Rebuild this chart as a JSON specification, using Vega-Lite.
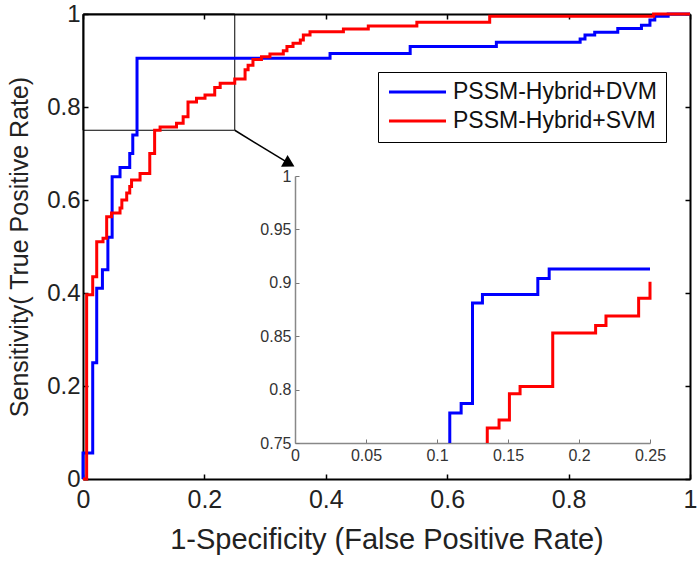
{
  "$schema": "https://vega.github.io/schema/vega-lite/v6.json",
  "width": 607,
  "height": 465,
  "autosize": {"type": "none"},
  "padding": {"left": 83, "top": 14, "right": 10, "bottom": 82},
  "config": {
    "font": "Liberation Sans",
    "view": {"stroke": null},
    "axis": {"grid": false, "labelFont": "Liberation Sans", "titleFont": "Liberation Sans", "titleFontWeight": "normal"}
  },
  "datasets": {
    "main": [
      {"model": "PSSM-Hybrid+DVM", "fpr": 0, "tpr": 0},
      {"model": "PSSM-Hybrid+DVM", "fpr": 0, "tpr": 0.056},
      {"model": "PSSM-Hybrid+DVM", "fpr": 0.016, "tpr": 0.25},
      {"model": "PSSM-Hybrid+DVM", "fpr": 0.0226, "tpr": 0.41},
      {"model": "PSSM-Hybrid+DVM", "fpr": 0.032, "tpr": 0.45},
      {"model": "PSSM-Hybrid+DVM", "fpr": 0.041, "tpr": 0.52},
      {"model": "PSSM-Hybrid+DVM", "fpr": 0.048, "tpr": 0.65},
      {"model": "PSSM-Hybrid+DVM", "fpr": 0.061, "tpr": 0.67},
      {"model": "PSSM-Hybrid+DVM", "fpr": 0.077, "tpr": 0.70},
      {"model": "PSSM-Hybrid+DVM", "fpr": 0.082, "tpr": 0.74},
      {"model": "PSSM-Hybrid+DVM", "fpr": 0.089, "tpr": 0.905},
      {"model": "PSSM-Hybrid+DVM", "fpr": 0.407, "tpr": 0.915},
      {"model": "PSSM-Hybrid+DVM", "fpr": 0.539, "tpr": 0.93},
      {"model": "PSSM-Hybrid+DVM", "fpr": 0.681, "tpr": 0.939},
      {"model": "PSSM-Hybrid+DVM", "fpr": 0.819, "tpr": 0.946},
      {"model": "PSSM-Hybrid+DVM", "fpr": 0.827, "tpr": 0.955},
      {"model": "PSSM-Hybrid+DVM", "fpr": 0.843, "tpr": 0.961},
      {"model": "PSSM-Hybrid+DVM", "fpr": 0.881, "tpr": 0.969},
      {"model": "PSSM-Hybrid+DVM", "fpr": 0.92, "tpr": 0.976},
      {"model": "PSSM-Hybrid+DVM", "fpr": 0.934, "tpr": 0.987},
      {"model": "PSSM-Hybrid+DVM", "fpr": 0.942, "tpr": 0.995},
      {"model": "PSSM-Hybrid+DVM", "fpr": 0.964, "tpr": 1.0},
      {"model": "PSSM-Hybrid+DVM", "fpr": 1, "tpr": 1.0},
      {"model": "PSSM-Hybrid+SVM", "fpr": 0, "tpr": 0},
      {"model": "PSSM-Hybrid+SVM", "fpr": 0.006, "tpr": 0.396},
      {"model": "PSSM-Hybrid+SVM", "fpr": 0.016, "tpr": 0.435},
      {"model": "PSSM-Hybrid+SVM", "fpr": 0.0226, "tpr": 0.51},
      {"model": "PSSM-Hybrid+SVM", "fpr": 0.033, "tpr": 0.518},
      {"model": "PSSM-Hybrid+SVM", "fpr": 0.039, "tpr": 0.564},
      {"model": "PSSM-Hybrid+SVM", "fpr": 0.047, "tpr": 0.572},
      {"model": "PSSM-Hybrid+SVM", "fpr": 0.061, "tpr": 0.583},
      {"model": "PSSM-Hybrid+SVM", "fpr": 0.064, "tpr": 0.60},
      {"model": "PSSM-Hybrid+SVM", "fpr": 0.072, "tpr": 0.615},
      {"model": "PSSM-Hybrid+SVM", "fpr": 0.077, "tpr": 0.629},
      {"model": "PSSM-Hybrid+SVM", "fpr": 0.08, "tpr": 0.643},
      {"model": "PSSM-Hybrid+SVM", "fpr": 0.094, "tpr": 0.657},
      {"model": "PSSM-Hybrid+SVM", "fpr": 0.11, "tpr": 0.70},
      {"model": "PSSM-Hybrid+SVM", "fpr": 0.118, "tpr": 0.75},
      {"model": "PSSM-Hybrid+SVM", "fpr": 0.127, "tpr": 0.757},
      {"model": "PSSM-Hybrid+SVM", "fpr": 0.154, "tpr": 0.765},
      {"model": "PSSM-Hybrid+SVM", "fpr": 0.165, "tpr": 0.779},
      {"model": "PSSM-Hybrid+SVM", "fpr": 0.173, "tpr": 0.811},
      {"model": "PSSM-Hybrid+SVM", "fpr": 0.187, "tpr": 0.819},
      {"model": "PSSM-Hybrid+SVM", "fpr": 0.201, "tpr": 0.826},
      {"model": "PSSM-Hybrid+SVM", "fpr": 0.217, "tpr": 0.842},
      {"model": "PSSM-Hybrid+SVM", "fpr": 0.226, "tpr": 0.851},
      {"model": "PSSM-Hybrid+SVM", "fpr": 0.25, "tpr": 0.86},
      {"model": "PSSM-Hybrid+SVM", "fpr": 0.267, "tpr": 0.88},
      {"model": "PSSM-Hybrid+SVM", "fpr": 0.272, "tpr": 0.89},
      {"model": "PSSM-Hybrid+SVM", "fpr": 0.28, "tpr": 0.902},
      {"model": "PSSM-Hybrid+SVM", "fpr": 0.294, "tpr": 0.908},
      {"model": "PSSM-Hybrid+SVM", "fpr": 0.308, "tpr": 0.914},
      {"model": "PSSM-Hybrid+SVM", "fpr": 0.33, "tpr": 0.921},
      {"model": "PSSM-Hybrid+SVM", "fpr": 0.336, "tpr": 0.93},
      {"model": "PSSM-Hybrid+SVM", "fpr": 0.346, "tpr": 0.937},
      {"model": "PSSM-Hybrid+SVM", "fpr": 0.358, "tpr": 0.944},
      {"model": "PSSM-Hybrid+SVM", "fpr": 0.363, "tpr": 0.955},
      {"model": "PSSM-Hybrid+SVM", "fpr": 0.374, "tpr": 0.962},
      {"model": "PSSM-Hybrid+SVM", "fpr": 0.429, "tpr": 0.968},
      {"model": "PSSM-Hybrid+SVM", "fpr": 0.47, "tpr": 0.974},
      {"model": "PSSM-Hybrid+SVM", "fpr": 0.55, "tpr": 0.982},
      {"model": "PSSM-Hybrid+SVM", "fpr": 0.67, "tpr": 0.995},
      {"model": "PSSM-Hybrid+SVM", "fpr": 0.94, "tpr": 1.0},
      {"model": "PSSM-Hybrid+SVM", "fpr": 1, "tpr": 1.0}
    ],
    "inset": [
      {"model": "PSSM-Hybrid+DVM", "fpr": 0.109, "tpr": 0.75},
      {"model": "PSSM-Hybrid+DVM", "fpr": 0.109, "tpr": 0.778},
      {"model": "PSSM-Hybrid+DVM", "fpr": 0.117, "tpr": 0.787},
      {"model": "PSSM-Hybrid+DVM", "fpr": 0.125, "tpr": 0.881},
      {"model": "PSSM-Hybrid+DVM", "fpr": 0.132, "tpr": 0.889},
      {"model": "PSSM-Hybrid+DVM", "fpr": 0.171, "tpr": 0.904},
      {"model": "PSSM-Hybrid+DVM", "fpr": 0.179, "tpr": 0.913},
      {"model": "PSSM-Hybrid+DVM", "fpr": 0.25, "tpr": 0.913},
      {"model": "PSSM-Hybrid+SVM", "fpr": 0.1354, "tpr": 0.75},
      {"model": "PSSM-Hybrid+SVM", "fpr": 0.1354, "tpr": 0.764},
      {"model": "PSSM-Hybrid+SVM", "fpr": 0.1437, "tpr": 0.7715},
      {"model": "PSSM-Hybrid+SVM", "fpr": 0.151, "tpr": 0.796},
      {"model": "PSSM-Hybrid+SVM", "fpr": 0.1585, "tpr": 0.803},
      {"model": "PSSM-Hybrid+SVM", "fpr": 0.1815, "tpr": 0.853},
      {"model": "PSSM-Hybrid+SVM", "fpr": 0.2117, "tpr": 0.86},
      {"model": "PSSM-Hybrid+SVM", "fpr": 0.219, "tpr": 0.869},
      {"model": "PSSM-Hybrid+SVM", "fpr": 0.242, "tpr": 0.8855},
      {"model": "PSSM-Hybrid+SVM", "fpr": 0.25, "tpr": 0.901}
    ],
    "zoombox": [{"x0": 0, "x1": 0.25, "y0": 0.75, "y1": 1}],
    "arrow": [{"x0": 0.25, "y0": 0.75, "x1": 0.34, "y1": 0.678}]
  },
  "layer": [
    {
      "layer": [
        {
          "data": {"name": "zoombox"},
          "mark": {"type": "rect", "fill": null, "stroke": "black", "strokeWidth": 1},
          "encoding": {
            "x": {"field": "x0", "type": "quantitative", "scale": {"domain": [0, 1], "nice": false, "zero": false},
              "axis": {"orient": "top", "labels": false, "title": null, "values": [0, 0.2, 0.4, 0.6, 0.8, 1], "tickSize": -5, "tickColor": "black", "tickWidth": 1.5, "domainColor": "black", "domainWidth": 2}},
            "x2": {"field": "x1"},
            "y": {"field": "y0", "type": "quantitative", "scale": {"domain": [0, 1], "nice": false, "zero": false},
              "axis": {"orient": "right", "labels": false, "title": null, "values": [0, 0.2, 0.4, 0.6, 0.8, 1], "tickSize": -5, "tickColor": "black", "tickWidth": 1.5, "domainColor": "black", "domainWidth": 2}},
            "y2": {"field": "y1"}
          }
        },
        {
          "data": {"name": "main"},
          "mark": {"type": "line", "interpolate": "step-after", "strokeWidth": 3},
          "encoding": {
            "x": {"field": "fpr", "type": "quantitative", "scale": {"domain": [0, 1], "nice": false, "zero": false},
              "axis": {"orient": "bottom", "title": "1-Specificity (False Positive Rate)", "values": [0, 0.2, 0.4, 0.6, 0.8, 1], "format": "~g",
                "tickSize": -5, "tickColor": "black", "tickWidth": 1.5, "domainColor": "black", "domainWidth": 2,
                "labelFontSize": 25, "labelColor": "#222", "labelPadding": 13, "titleFontSize": 29, "titleColor": "#222", "titlePadding": 13, "labelFlush": false}},
            "y": {"field": "tpr", "type": "quantitative", "scale": {"domain": [0, 1], "nice": false, "zero": false},
              "axis": {"orient": "left", "title": "Sensitivity( True Positive Rate)", "values": [0, 0.2, 0.4, 0.6, 0.8, 1], "format": "~g",
                "tickSize": -5, "tickColor": "black", "tickWidth": 1.5, "domainColor": "black", "domainWidth": 2,
                "labelFontSize": 24, "labelColor": "#222", "labelPadding": 8, "titleFontSize": 25, "titleColor": "#222", "titlePadding": 14, "labelFlush": false}},
            "color": {"field": "model", "type": "nominal",
              "scale": {"domain": ["PSSM-Hybrid+DVM", "PSSM-Hybrid+SVM"], "range": ["#0000ff", "#ff0000"]},
              "legend": {"orient": "none", "legendX": 295, "legendY": 58, "title": null, "strokeColor": "black", "fillColor": "white",
                "padding": 9, "labelFontSize": 23, "labelColor": "#111", "labelLimit": 0, "symbolType": "stroke", "symbolStrokeWidth": 3,
                "symbolSize": 3250, "clipHeight": 22, "rowPadding": 6, "labelOffset": 5}},
            "order": {"value": null}
          }
        },
        {
          "data": {"name": "arrow"},
          "mark": {"type": "rule", "color": "black", "strokeWidth": 1.5},
          "encoding": {
            "x": {"field": "x0", "type": "quantitative", "axis": null},
            "y": {"field": "y0", "type": "quantitative", "axis": null},
            "x2": {"field": "x1"},
            "y2": {"field": "y1"}
          }
        },
        {
          "data": {"name": "arrow"},
          "mark": {"type": "point", "shape": "triangle-right", "filled": true, "color": "black", "size": 180, "angle": 29, "opacity": 1},
          "encoding": {
            "x": {"field": "x1", "type": "quantitative", "axis": null},
            "y": {"field": "y1", "type": "quantitative", "axis": null}
          }
        }
      ]
    },
    {
      "data": {"name": "inset"},
      "mark": {"type": "line", "interpolate": "step-after", "strokeWidth": 3},
      "encoding": {
        "x": {"field": "fpr", "type": "quantitative", "scale": {"domain": [0, 0.25], "range": [212, 567], "nice": false, "zero": false},
          "axis": {"orient": "bottom", "offset": -36, "title": null, "values": [0, 0.05, 0.1, 0.15, 0.2, 0.25], "format": "~g",
            "tickSize": -4, "tickColor": "#777", "domainColor": "#888", "domainWidth": 1.5, "labelFontSize": 16, "labelColor": "#333", "labelPadding": 8, "labelFlush": false}},
        "y": {"field": "tpr", "type": "quantitative", "scale": {"domain": [0.75, 1], "range": [429, 162], "nice": false, "zero": false},
          "axis": {"orient": "left", "offset": -212, "title": null, "values": [0.75, 0.8, 0.85, 0.9, 0.95, 1], "format": "~g",
            "tickSize": -4, "tickColor": "#777", "domainColor": "#888", "domainWidth": 1.5, "labelFontSize": 16, "labelColor": "#333", "labelPadding": 8, "labelFlush": false}},
        "color": {"field": "model", "type": "nominal", "scale": {"domain": ["PSSM-Hybrid+DVM", "PSSM-Hybrid+SVM"], "range": ["#0000ff", "#ff0000"]}, "legend": null},
        "order": {"value": null}
      }
    }
  ],
  "resolve": {"scale": {"x": "independent", "y": "independent", "color": "shared"}}
}
